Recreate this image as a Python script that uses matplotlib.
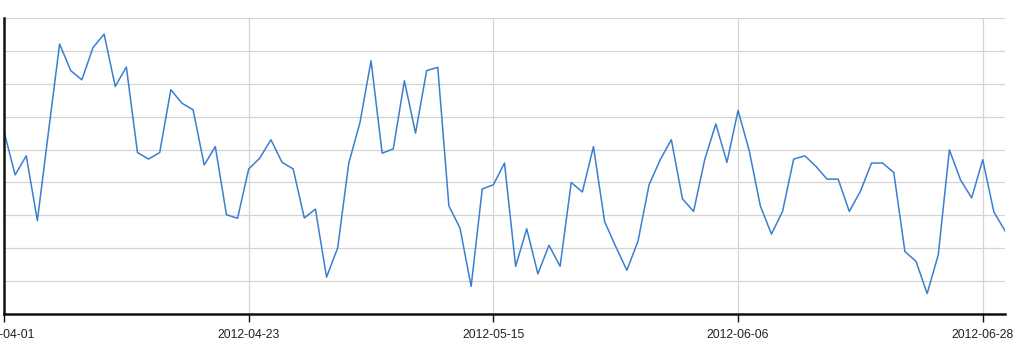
import numpy as np
import pandas as pd
import matplotlib
matplotlib.use('Agg')
import matplotlib.pyplot as plt
import matplotlib.dates as mdates

# daily values, 2012-04-01 .. 2012-06-30 (units: gridline steps x10)
start = '2012-04-01'
values = [
    55.5, 42.3, 48.1, 28.4, 55.4, 82.1, 74.0, 71.2, 81.0, 85.1,
    69.2, 75.1, 49.1, 47.1, 49.1, 68.2, 64.1, 62.1, 45.3, 50.9,
    30.2, 29.1, 44.1, 47.4, 53.0, 46.1, 44.1, 29.2, 31.9, 11.2,
    20.1, 45.9, 58.1, 77.0, 48.9, 50.2, 70.9, 55.0, 74.0, 75.0,
    32.9, 26.1, 8.4, 38.0, 39.3, 45.9, 14.5, 25.9, 12.2, 20.9,
    14.5, 40.0, 37.1, 50.9, 28.1, 20.5, 13.3, 22.1, 39.3, 46.9,
    53.0, 35.0, 31.2, 46.9, 57.8, 46.1, 61.9, 49.7, 32.9, 24.3,
    31.2, 47.1, 48.1, 44.9, 41.0, 41.0, 31.2, 37.3, 45.9, 45.9,
    43.0, 19.0, 16.0, 6.2, 18.0, 49.9, 40.8, 35.3, 46.9, 31.0,
    25.3,
]
tick_dates = ['2012-04-01', '2012-04-23', '2012-05-15', '2012-06-06', '2012-06-28']
y_grid = np.arange(0, 91, 10)

dates = pd.date_range(start, periods=len(values), freq='D')

fig = plt.figure(figsize=(10.24, 3.46), dpi=100)
ax = fig.add_axes([4 / 1024, 32 / 346, 1001 / 1024, 296 / 346])

ax.plot(dates, values, color='#3a7fd0', lw=1.1)

ax.set_xlim(dates[0], dates[-1])
ax.set_ylim(0, 90)

ax.set_xticks(pd.to_datetime(tick_dates))
ax.xaxis.set_major_formatter(mdates.DateFormatter('%Y-%m-%d'))
ax.set_yticks(y_grid)
ax.tick_params(axis='y', length=0, labelleft=False)
ax.tick_params(axis='x', length=6, width=1, color='#111111',
               labelsize=8.8, labelcolor='#222222', pad=5)
for lbl in ax.get_xticklabels():
    lbl.set_fontfamily(['Liberation Sans', 'DejaVu Sans'])

ax.grid(True, color='#d4d4d4', lw=0.9)
ax.set_axisbelow(True)
for s in ['top', 'right']:
    ax.spines[s].set_visible(False)
for s in ['left', 'bottom']:
    ax.spines[s].set_color('#111111')
    ax.spines[s].set_linewidth(1.8)

fig.savefig('out.png', dpi=100)
